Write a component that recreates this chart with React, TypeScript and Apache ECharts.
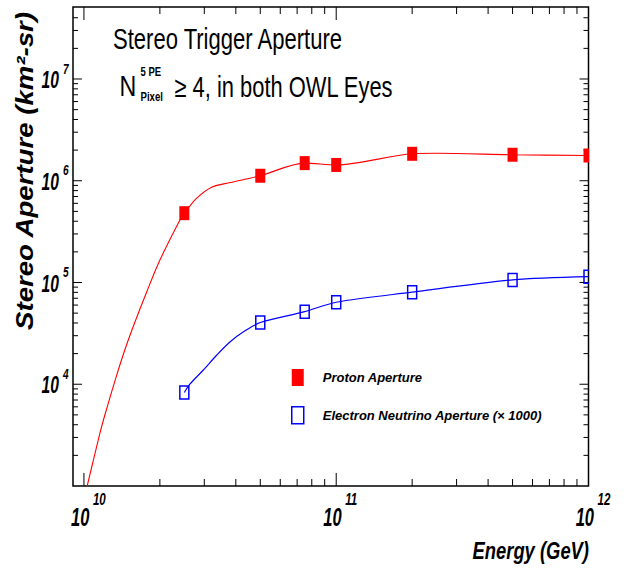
import React, { useEffect, useRef } from 'react';
import * as echarts from 'echarts';

// ---- data ----
const energies = [2.5e10, 5e10, 7.5e10, 1e11, 2e11, 5e11, 1e12];
const protonAperture = [4.8e5, 1.12e6, 1.49e6, 1.43e6, 1.84e6, 1.8e6, 1.77e6];
const neutrinoAperture = [8.3e3, 4.04e4, 5.17e4, 6.4e4, 8.04e4, 1.06e5, 1.14e5];

const protonCurveE = [1.03e10, 1.157e10, 1.216e10, 1.33e10, 1.452e10, 1.586e10, 1.786e10, 2.003e10, 2.404e10, 2.5e10, 2.8e10, 3.21e10, 3.8e10, 5e10, 7.5e10, 1e11, 2e11, 2.5e11, 5e11, 1e12];
const protonCurveA = [1.0e3, 3.3e3, 5.19e3, 1.1e4, 2.17e4, 3.98e4, 8.45e4, 1.67e5, 4.13e5, 4.8e5, 6.75e5, 8.65e5, 9.6e5, 1.12e6, 1.49e6, 1.43e6, 1.84e6, 1.86e6, 1.8e6, 1.77e6];
const neutrinoCurveE = [2.5e10, 2.634e10, 2.974e10, 3.363e10, 3.8e10, 4.35e10, 5e10, 7.5e10, 1e11, 2e11, 5e11, 1e12];
const neutrinoCurveA = [8.3e3, 1.007e4, 1.38e4, 1.94e4, 2.62e4, 3.35e4, 4.04e4, 5.17e4, 6.4e4, 8.04e4, 1.06e5, 1.14e5];

const xMajorTicks = [1e10, 1e11, 1e12];
const xTickExponents = ['10', '11', '12'];
const xMinorTicks = [2e10, 3e10, 4e10, 5e10, 6e10, 7e10, 8e10, 9e10, 2e11, 3e11, 4e11, 5e11, 6e11, 7e11, 8e11, 9e11];
const yMajorTicks = [1e4, 1e5, 1e6, 1e7];
const yTickExponents = ['4', '5', '6', '7'];
const yMinorTicks = [
  2e3, 3e3, 4e3, 5e3, 6e3, 7e3, 8e3, 9e3,
  2e4, 3e4, 4e4, 5e4, 6e4, 7e4, 8e4, 9e4,
  2e5, 3e5, 4e5, 5e5, 6e5, 7e5, 8e5, 9e5,
  2e6, 3e6, 4e6, 5e6, 6e6, 7e6, 8e6, 9e6,
  2e7, 3e7, 4e7,
];

const X_MIN = 9.05e9;
const X_MAX = 1e12;
const Y_MIN = 1e3;
const Y_MAX = 5.1e7;

const FONT = '"Liberation Sans", Arial, Helvetica, sans-serif';
const RED = '#ff0000';
const BLUE = '#0000ff';

function tickSeries(values: number[], axis: 'x' | 'y', major: boolean) {
  return {
    type: 'custom',
    silent: true,
    clip: false,
    z: 5,
    data: values.map((v) => (axis === 'x' ? [v, Y_MIN] : [X_MIN, v])),
    renderItem: (params: any, api: any) => {
      const cs = params.coordSys;
      const p = api.coord([api.value(0), api.value(1)]);
      const style = { stroke: '#000', lineWidth: 1 };
      if (axis === 'x') {
        const len = major ? 13 : 7;
        const b = cs.y + cs.height;
        return {
          type: 'group',
          children: [
            { type: 'line', shape: { x1: p[0], y1: b, x2: p[0], y2: b - len }, style },
            { type: 'line', shape: { x1: p[0], y1: cs.y, x2: p[0], y2: cs.y + len }, style },
          ],
        };
      }
      const len = major ? 9 : 5;
      const r = cs.x + cs.width;
      return {
        type: 'group',
        children: [
          { type: 'line', shape: { x1: cs.x, y1: p[1], x2: cs.x + len, y2: p[1] }, style },
          { type: 'line', shape: { x1: r, y1: p[1], x2: r - len, y2: p[1] }, style },
        ],
      };
    },
  };
}

function txt(text: string, x: number, y: number, font: string, scaleX: number, align: string, extra: any = {}) {
  return {
    type: 'text',
    x,
    y,
    scaleX,
    ...extra,
    style: { text, font, fill: '#000', textAlign: align, textVerticalAlign: 'middle' },
  };
}

export default function App() {
  const ref = useRef<HTMLDivElement>(null);

  useEffect(() => {
    document.body.style.margin = '0';
    if (!ref.current) return;
    const chart = echarts.init(ref.current, undefined, { renderer: 'svg' });

    const option: any = {
      animation: false,
      backgroundColor: '#ffffff',
      grid: {
        left: 73,
        top: 7,
        right: 38.5,
        bottom: 82,
        show: true,
        borderColor: '#000',
        borderWidth: 1.5,
        backgroundColor: 'transparent',
      },
      xAxis: {
        type: 'log',
        logBase: 10,
        min: X_MIN,
        max: X_MAX,
        axisLine: { show: false },
        axisTick: { show: false },
        axisLabel: { show: false },
        splitLine: { show: false },
      },
      yAxis: {
        type: 'log',
        logBase: 10,
        min: Y_MIN,
        max: Y_MAX,
        axisLine: { show: false },
        axisTick: { show: false },
        axisLabel: { show: false },
        splitLine: { show: false },
      },
      legend: {
        orient: 'vertical',
        left: 286,
        top: 364,
        itemWidth: 12,
        itemHeight: 17,
        itemGap: 20,
        selectedMode: false,
        data: [
          { name: 'Proton Aperture', icon: 'rect', itemStyle: { color: RED } },
          {
            name: 'Electron Neutrino Aperture (× 1000)',
            icon: 'rect',
            itemStyle: { color: '#ffffff', borderColor: BLUE, borderWidth: 1.5 },
          },
        ],
        textStyle: {
          fontFamily: FONT,
          fontStyle: 'italic',
          fontWeight: 'bold',
          fontSize: 13,
          color: '#000',
          padding: [0, 0, 0, 14],
        },
      },
      graphic: [
        txt('Stereo Trigger Aperture', 113, 39, `29px ${FONT}`, 0.76, 'left'),
        txt('N', 119.5, 86.5, `29px ${FONT}`, 0.8, 'left'),
        txt('5 PE', 140.5, 71.2, `bold 12.5px ${FONT}`, 0.76, 'left'),
        txt('Pixel', 140.5, 96, `bold 13px ${FONT}`, 0.74, 'left'),
        txt('≥ 4, in both OWL Eyes', 174.5, 86.5, `29px ${FONT}`, 0.755, 'left'),
        txt('Energy (GeV)', 589, 550.5, `italic bold 24.7px ${FONT}`, 0.745, 'right'),
        txt('Stereo Aperture (km²-sr)', 25, 171, `italic bold 23px ${FONT}`, 1.2, 'center', {
          rotation: Math.PI / 2,
        }),
      ],
      series: [
        {
          name: 'protonCurve',
          type: 'line',
          silent: true,
          data: protonCurveE.map((e, i) => [e, protonCurveA[i]]),
          showSymbol: false,
          symbol: 'none',
          smooth: 0.3,
          clip: true,
          lineStyle: { color: RED, width: 1.1 },
          z: 3,
        },
        {
          name: 'neutrinoCurve',
          type: 'line',
          silent: true,
          data: neutrinoCurveE.map((e, i) => [e, neutrinoCurveA[i]]),
          showSymbol: false,
          symbol: 'none',
          smooth: 0.3,
          clip: true,
          lineStyle: { color: BLUE, width: 1.2 },
          z: 3,
        },
        {
          name: 'Proton Aperture',
          type: 'custom',
          clip: true,
          z: 10,
          itemStyle: { color: RED },
          data: energies.map((e, i) => [e, protonAperture[i]]),
          renderItem: (params: any, api: any) => {
            const p = api.coord([api.value(0), api.value(1)]);
            return {
              type: 'rect',
              shape: { x: p[0] - 5, y: p[1] - 7, width: 10, height: 14 },
              style: { fill: RED },
            };
          },
        },
        {
          name: 'Electron Neutrino Aperture (× 1000)',
          type: 'custom',
          clip: true,
          z: 10,
          itemStyle: { color: BLUE },
          data: energies.map((e, i) => [e, neutrinoAperture[i]]),
          renderItem: (params: any, api: any) => {
            const p = api.coord([api.value(0), api.value(1)]);
            return {
              type: 'rect',
              shape: { x: p[0] - 4.5, y: p[1] - 6.5, width: 9, height: 13 },
              style: { fill: 'none', stroke: BLUE, lineWidth: 1.5 },
            };
          },
        },
        tickSeries(xMajorTicks, 'x', true),
        tickSeries(xMinorTicks, 'x', false),
        tickSeries(yMajorTicks, 'y', true),
        tickSeries(yMinorTicks, 'y', false),
        {
          type: 'custom',
          silent: true,
          clip: false,
          z: 6,
          data: xMajorTicks.map((v, i) => [v, Y_MIN, i]),
          renderItem: (params: any, api: any) => {
            const p = api.coord([api.value(0), api.value(1)]);
            const exp = xTickExponents[api.value(2)];
            return {
              type: 'group',
              children: [
                txt('10', p[0] + 5.5, p[1] + 31.5, `italic bold 25px ${FONT}`, 0.66, 'right'),
                txt(exp, p[0] + 9, p[1] + 13, `italic bold 17px ${FONT}`, 0.68, 'left'),
              ],
            };
          },
        },
        {
          type: 'custom',
          silent: true,
          clip: false,
          z: 6,
          data: yMajorTicks.map((v, i) => [X_MIN, v, i]),
          renderItem: (params: any, api: any) => {
            const p = api.coord([api.value(0), api.value(1)]);
            const exp = yTickExponents[api.value(2)];
            return {
              type: 'group',
              children: [
                txt('10', p[0] - 14, p[1] + 1, `italic bold 23px ${FONT}`, 0.68, 'right'),
                txt(exp, p[0] - 10, p[1] - 10, `italic bold 14px ${FONT}`, 0.72, 'left'),
              ],
            };
          },
        },
      ],
    };

    chart.setOption(option);
    return () => chart.dispose();
  }, []);

  return <div ref={ref} style={{ width: 627, height: 568 }} />;
}
